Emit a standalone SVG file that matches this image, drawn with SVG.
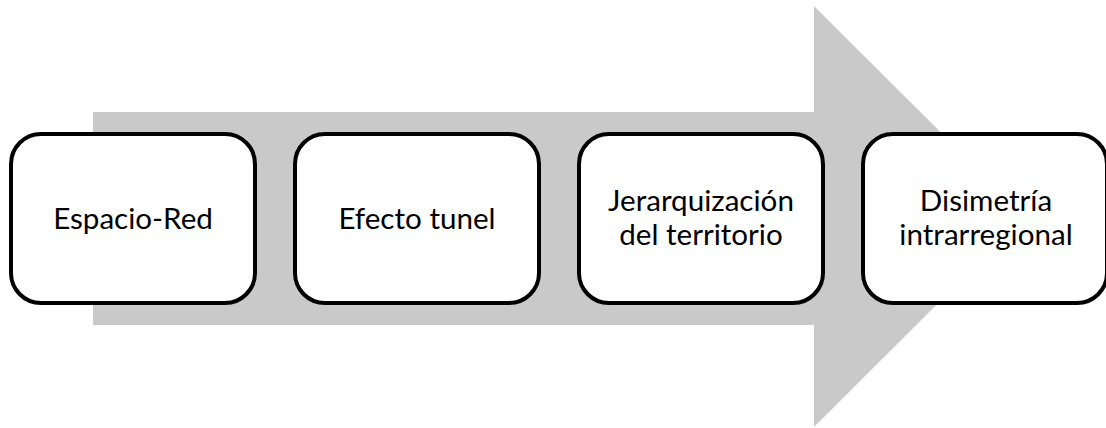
<svg xmlns="http://www.w3.org/2000/svg" width="1106" height="428" viewBox="0 0 1106 428">
<style>
.box{fill:#fff;stroke:#000;stroke-width:4}
.lbl{font-family:Lato,"Open Sans",sans-serif;font-size:29.6px;fill:#000;text-anchor:middle}
</style>
<rect width="1106" height="428" fill="#fff"/>
<g id="arrow">
<polygon points="93,112 814,112 814,6 1025,216.5 814,427 814,325 93,325" fill="#c9c9c9"/>
</g>
<g id="connectors"></g>
<g id="n1"><rect class="box" x="11" y="134" width="244" height="169" rx="30"/><text class="lbl" x="133" y="229">Espacio-Red</text></g>
<g id="n2"><rect class="box" x="295" y="134" width="244" height="169" rx="30"/><text class="lbl" x="417" y="229">Efecto tunel</text></g>
<g id="n3"><rect class="box" x="579" y="134" width="244" height="169" rx="30"/><text class="lbl" x="701" y="211">Jerarquización</text><text class="lbl" x="701" y="245">del territorio</text></g>
<g id="n4"><rect class="box" x="863" y="134" width="244" height="169" rx="30"/><text class="lbl" x="986" y="211">Disimetría</text><text class="lbl" x="986" y="245">intrarregional</text></g>
</svg>
